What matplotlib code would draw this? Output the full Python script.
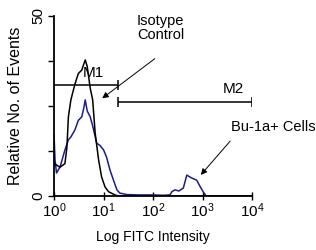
import matplotlib
matplotlib.use('Agg')
import matplotlib.pyplot as plt

plt.rcParams['font.family'] = ['Liberation Sans', 'DejaVu Sans']

# Isotype control histogram (log10 of FITC, events)
iso_logx = [0.0, 0.05, 0.12, 0.22, 0.26, 0.29, 0.34, 0.42, 0.49, 0.56, 0.63, 0.67,
            0.73, 0.78, 0.83, 0.90, 0.96, 1.03, 1.10, 1.20, 1.27, 1.5, 2.5, 4.0]
iso_y = [9, 8.6, 8.0, 9.0, 13.6, 22, 26.7, 31, 34, 35, 37.8, 36,
         30, 26.7, 17.5, 10, 5.3, 2.5, 1.2, 0.5, 0.1, 0.0, 0.0, 0.0]

# Bu-1a+ cells histogram
bu_logx = [0.0, 0.02, 0.05, 0.12, 0.22, 0.29, 0.34, 0.42, 0.49, 0.56, 0.60, 0.63, 0.67,
           0.73, 0.78, 0.86, 0.93, 1.0, 1.06, 1.13, 1.20, 1.27, 1.33, 1.47, 1.7,
           2.0, 2.2, 2.34, 2.38, 2.44, 2.52, 2.61, 2.68, 2.78, 2.88, 2.95, 3.01, 3.07,
           3.3, 4.0]
bu_y = [17, 10, 6.4, 8, 12.8, 15.6, 16.4, 18.3, 21, 22, 24.4, 26.7, 23.6,
        22, 19.5, 14.7, 14, 12.8, 10.8, 7.2, 4.4, 1.7, 0.8, 0.4, 0.3,
        0.3, 0.2, 0.3, 1.2, 1.7, 1.4, 2.2, 5.8, 5.0, 4.4, 2.6, 1.2, 0.0,
        0.0, 0.0]

m1 = (1.0, 19.5, 30.8)    # start, end, level
m2 = (19.5, 10000, 26.1)

iso_x = [10 ** v for v in iso_logx]
bu_x = [10 ** v for v in bu_logx]

fig = plt.figure(figsize=(3.16, 2.5), dpi=100)
ax = fig.add_axes([0.171, 0.216, 0.627, 0.72])

ax.plot(bu_x, bu_y, color='#1c1c8a', lw=1.1)
ax.plot(iso_x, iso_y, color='black', lw=1.1)

ax.set_xscale('log')
ax.set_xlim(1, 10000)
ax.set_ylim(0, 50)

# markers M1 / M2
ax.hlines(m1[2], m1[0], m1[1], color='black', lw=1.1)
ax.vlines(m1[1], m1[2] - 1.4, m1[2] + 1.4, color='black', lw=1.1)
ax.hlines(m2[2], m2[0], m2[1], color='black', lw=1.1)
ax.vlines([m2[0], m2[1]], m2[2] - 1.4, m2[2] + 1.4, color='black', lw=1.1)
ax.text(10 ** 0.79, 34.2, 'M1', ha='center', va='center', fontsize=11)
ax.text(10 ** 3.62, 29.7, 'M2', ha='center', va='center', fontsize=11)

ax.text(137, 250 - 14, 'Isotype\nControl', transform=None,
        ha='left', va='top', fontsize=10.5, linespacing=1.0)
ax.annotate('', xy=(100, 250 - 100), xycoords='figure pixels',
            xytext=(157, 250 - 57), textcoords='figure pixels',
            arrowprops=dict(arrowstyle='-|>', color='black', lw=0.7, mutation_scale=9))
ax.text(231, 250 - 127, 'Bu-1a+ Cells', transform=None, ha='left', va='center', fontsize=10.5)
ax.annotate('', xy=(199, 250 - 177), xycoords='figure pixels',
            xytext=(232, 250 - 139), textcoords='figure pixels',
            arrowprops=dict(arrowstyle='-|>', color='black', lw=0.7, mutation_scale=9))

ax.set_xticks([1, 10, 100, 1000, 10000])
ax.set_xticklabels(['$\\mathregular{10^{%d}}$' % i for i in range(5)], fontsize=11)
ax.set_yticks([0, 12.5, 25, 37.5, 50])
ax.set_yticklabels(['0', '', '', '', '50'], rotation=90, va='center', fontsize=11)

ax.spines['top'].set_visible(False)
ax.spines['right'].set_visible(False)
ax.spines['left'].set_linewidth(1.3)
ax.spines['bottom'].set_linewidth(1.3)
ax.tick_params(axis='x', which='major', direction='inout', length=6, width=1, pad=1)
ax.tick_params(axis='x', which='minor', direction='in', length=3, width=0.8)
ax.tick_params(axis='y', which='major', direction='out', length=4, width=1, pad=2)

ax.set_xlabel('Log FITC Intensity', fontsize=10, labelpad=7)
ax.set_ylabel('Relative No. of Events', fontsize=11.5, labelpad=6)

fig.savefig('out.png', dpi=100)
